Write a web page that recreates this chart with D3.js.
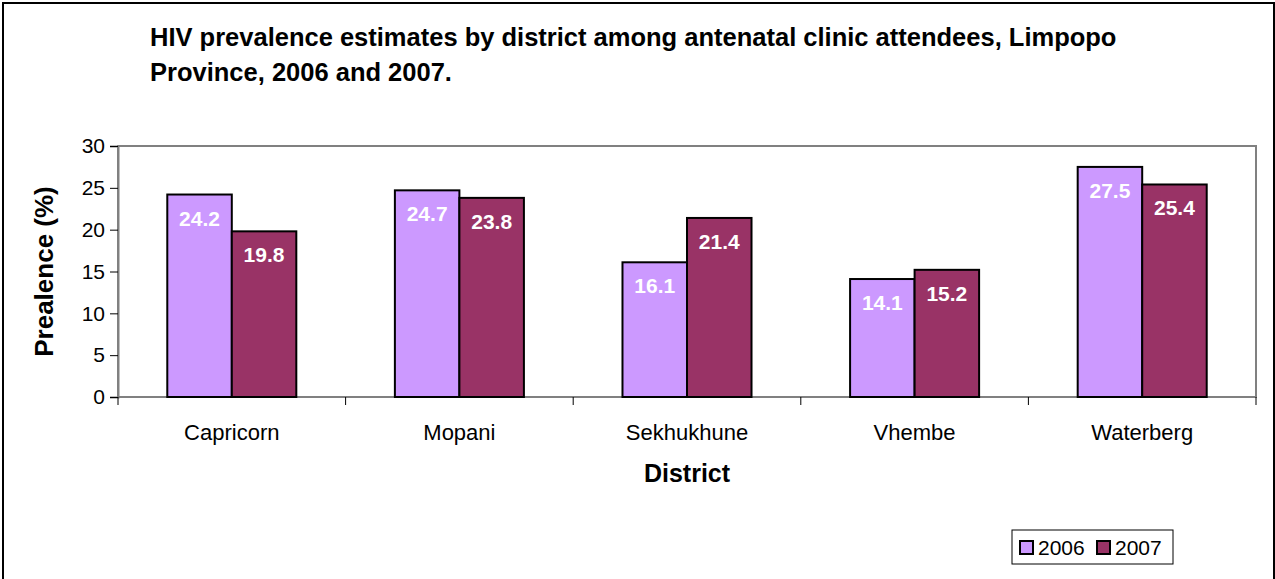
<html>
<head>
<title>HIV prevalence Limpopo</title>
<script src="https://cdn.jsdelivr.net/npm/d3@7"></script>
<style>
body {
    margin: 0;
    background: #fff;
}
svg text {
    font-family: "Liberation Sans", Arial, sans-serif;
}
.bar {
    stroke: #000;
    stroke-width: 2px;
}
.barlabel {
    fill: #fff;
    font-weight: bold;
    font-size: 21px;
    text-anchor: middle;
}
</style>
</head>
<body>
<div id="chart"></div>
<script>
var districts = ['Capricorn', 'Mopani', 'Sekhukhune', 'Vhembe', 'Waterberg'],
    years     = ['2006', '2007'],
    prev2006  = [24.2, 24.7, 16.1, 14.1, 27.5],
    prev2007  = [19.8, 23.8, 21.4, 15.2, 25.4],
    yTicks    = [0, 5, 10, 15, 20, 25, 30],
    colors    = ['#cc99ff', '#993366'],
    titleLines = ['HIV prevalence estimates by district among antenatal clinic attendees, Limpopo',
                  'Province, 2006 and 2007.'];

var W = 1275, H = 579,
    plot = {left: 118, right: 1256, top: 146, bottom: 397};

var rows = districts.map(function(d, i) {
    return {district: d, values: [prev2006[i], prev2007[i]]};
});

var svg = d3.select('#chart')
    .append('svg')
    .attr('width', W)
    .attr('height', H);

// outer frame (bottom edge runs off the picture)
svg.append('rect')
    .attr('x', 3).attr('y', 3)
    .attr('width', 1271).attr('height', 600)
    .attr('fill', '#fff')
    .attr('stroke', '#000')
    .attr('stroke-width', 2);

svg.selectAll('.title')
    .data(titleLines)
    .enter().append('text')
    .attr('class', 'title')
    .attr('x', 150)
    .attr('y', function(d, i) { return 46 + i * 35; })
    .attr('font-size', 25.5)
    .attr('font-weight', 'bold')
    .text(function(d) { return d; });

var x = d3.scaleBand()
    .domain(districts)
    .range([plot.left, plot.right])
    .padding(0);

var xs = d3.scaleBand()
    .domain(years)
    .range([0, x.bandwidth()])
    .paddingInner(0)
    .paddingOuter(0.764);

var y = d3.scaleLinear()
    .domain([0, 30])
    .range([plot.bottom, plot.top]);

// plot area border
svg.append('rect')
    .attr('x', plot.left).attr('y', plot.top)
    .attr('width', plot.right - plot.left)
    .attr('height', plot.bottom - plot.top)
    .attr('fill', 'none')
    .attr('stroke', '#808080')
    .attr('stroke-width', 2);

// y axis
var yAxis = svg.append('g')
    .attr('transform', 'translate(' + plot.left + ',0)')
    .call(d3.axisLeft(y).tickValues(yTicks).tickSize(8).tickPadding(5));
yAxis.select('.domain').attr('stroke', '#808080').attr('stroke-width', 2);
yAxis.selectAll('.tick line').attr('stroke', '#000').attr('stroke-width', 1);
yAxis.selectAll('.tick text')
    .attr('font-size', 21)
    .attr('font-family', '"Liberation Sans", Arial, sans-serif')
    .attr('fill', '#000');

// x axis: ticks between categories, labels centred
var xAxis = svg.append('g')
    .attr('transform', 'translate(0,' + plot.bottom + ')');
xAxis.append('line')
    .attr('x1', plot.left).attr('x2', plot.right)
    .attr('stroke', '#808080').attr('stroke-width', 2);
xAxis.selectAll('.xtick')
    .data(districts.concat(['end']))
    .enter().append('line')
    .attr('class', 'xtick')
    .attr('x1', function(d) { return d == 'end' ? plot.right : x(d); })
    .attr('x2', function(d) { return d == 'end' ? plot.right : x(d); })
    .attr('y1', 0).attr('y2', 8)
    .attr('stroke', '#000');
xAxis.selectAll('.xlabel')
    .data(districts)
    .enter().append('text')
    .attr('class', 'xlabel')
    .attr('x', function(d) { return x(d) + x.bandwidth() / 2; })
    .attr('y', 43)
    .attr('text-anchor', 'middle')
    .attr('font-size', 22)
    .text(function(d) { return d; });

// bars
var groups = svg.selectAll('.grp')
    .data(rows)
    .enter().append('g')
    .attr('class', 'grp')
    .attr('transform', function(d) { return 'translate(' + x(d.district) + ',0)'; });

groups.selectAll('.bar')
    .data(function(d) { return d.values.map(function(v, i) { return {year: years[i], value: v}; }); })
    .enter().append('rect')
    .attr('class', 'bar')
    .attr('x', function(d) { return xs(d.year); })
    .attr('width', xs.bandwidth())
    .attr('y', function(d) { return y(d.value); })
    .attr('height', function(d) { return y(0) - y(d.value); })
    .attr('fill', function(d, i) { return colors[i]; });

groups.selectAll('.barlabel')
    .data(function(d) { return d.values.map(function(v, i) { return {year: years[i], value: v}; }); })
    .enter().append('text')
    .attr('class', 'barlabel')
    .attr('x', function(d) { return xs(d.year) + xs.bandwidth() / 2; })
    .attr('y', function(d) { return y(d.value) + 31; })
    .text(function(d) { return d.value.toFixed(1); });

// axis titles
svg.append('text')
    .attr('x', (plot.left + plot.right) / 2)
    .attr('y', 482)
    .attr('text-anchor', 'middle')
    .attr('font-size', 25)
    .attr('font-weight', 'bold')
    .text('District');

svg.append('text')
    .attr('transform', 'translate(53,' + ((plot.top + plot.bottom) / 2) + ') rotate(-90)')
    .attr('text-anchor', 'middle')
    .attr('font-size', 26)
    .attr('font-weight', 'bold')
    .text('Prealence (%)');

// legend
var legend = svg.append('g').attr('transform', 'translate(1012,530)');
legend.append('rect')
    .attr('width', 161).attr('height', 34)
    .attr('fill', '#fff')
    .attr('stroke', '#000')
    .attr('stroke-width', 1);
var item = legend.selectAll('.item')
    .data(years)
    .enter().append('g')
    .attr('class', 'item')
    .attr('transform', function(d, i) { return 'translate(' + (8 + i * 77) + ',0)'; });
item.append('rect')
    .attr('y', 11)
    .attr('width', 13).attr('height', 13)
    .attr('fill', function(d, i) { return colors[i]; })
    .attr('stroke', '#000')
    .attr('stroke-width', 2);
item.append('text')
    .attr('x', 18)
    .attr('y', 25)
    .attr('font-size', 21)
    .text(function(d) { return d; });
</script>
</body>
</html>
